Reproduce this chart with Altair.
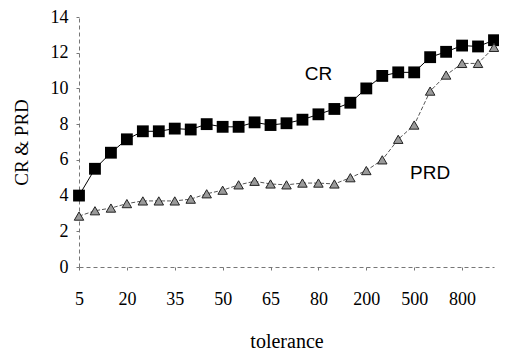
import altair as alt
import pandas as pd

tolerance = [5, 10, 15, 20, 25, 30, 35, 40, 45, 50, 55, 60, 65, 70, 75, 80,
             90, 100, 200, 300, 400, 500, 600, 700, 800, 900, 1000]
cr = [4.0, 5.5, 6.4, 7.15, 7.6, 7.6, 7.75, 7.7, 8.0, 7.85, 7.85, 8.1, 7.95, 8.05,
      8.25, 8.55, 8.85, 9.2, 10.0, 10.7, 10.9, 10.9, 11.75, 12.05, 12.4, 12.35, 12.7]
prd = [2.85, 3.15, 3.3, 3.55, 3.7, 3.7, 3.7, 3.8, 4.1, 4.3, 4.6, 4.8, 4.65, 4.6,
       4.7, 4.7, 4.65, 5.0, 5.4, 6.0, 7.15, 7.95, 9.85, 10.75, 11.4, 11.4, 12.3]
label_ticks = [5, 20, 35, 50, 65, 80, 200, 500, 800]
annotations = ["CR", "PRD"]
annot_x = [80, 600]
annot_y = [10.8, 5.25]

idx = list(range(len(tolerance)))
df = pd.DataFrame({"i": idx, "tolerance": tolerance, "CR": cr, "PRD": prd})
ann = pd.DataFrame({"i": [tolerance.index(v) for v in annot_x], "y": annot_y,
                    "label": annotations})

label_expr = "[" + ",".join("'%d'" % t for t in tolerance) + "][datum.value]"
tick_idx = [tolerance.index(v) for v in label_ticks]

serif = "Liberation Serif"
common = dict(labelFont=serif, labelFontSize=18, labelColor="black",
              labelOverlap=False, labelFlush=False, labelBound=False,
              tickSize=3, tickColor="#777", domainColor="#777", domainDash=[4, 3],
              titleFont=serif, titleFontWeight="normal", titleColor="black",
              grid=False)

x_scale = alt.Scale(domain=[0, len(tolerance) - 1], nice=False, zero=False)
x_axis = alt.Axis(values=tick_idx, labelExpr=label_expr, title="tolerance",
                  labelAngle=0, labelPadding=20, titlePadding=23, titleFontSize=20,
                  **common)
y_scale = alt.Scale(domain=[0, 14], nice=False)
y_axis = alt.Axis(values=list(range(0, 15, 2)), title="CR & PRD",
                  labelPadding=8, titlePadding=19, titleFontSize=19, **common)

X = alt.X("i:Q", scale=x_scale, axis=x_axis)

base = alt.Chart(df)

cr_line = base.mark_line(color="black", strokeWidth=1).encode(
    x=X, y=alt.Y("CR:Q", scale=y_scale, axis=y_axis))
cr_pts = base.mark_point(shape="square", filled=True, color="black", size=140, opacity=1).encode(
    x=X, y=alt.Y("CR:Q", scale=y_scale, axis=y_axis))
prd_line = base.mark_line(color="#555", strokeWidth=1, strokeDash=[4, 2]).encode(
    x=X, y=alt.Y("PRD:Q", scale=y_scale, axis=y_axis))
prd_pts = base.mark_point(shape="triangle-up", filled=True, fill="#9a9a9a", stroke="#222",
                          strokeWidth=1, size=90, opacity=1).encode(
    x=X, y=alt.Y("PRD:Q", scale=y_scale, axis=y_axis))
text = alt.Chart(ann).mark_text(font="Liberation Sans", fontSize=19, color="black").encode(
    x=X, y=alt.Y("y:Q", scale=y_scale, axis=y_axis), text="label:N")

chart = alt.layer(cr_line, prd_line, cr_pts, prd_pts, text).properties(
    width=415, height=250,
    autosize=alt.AutoSizeParams(type="none"),
    padding={"left": 71, "top": 9, "right": 5, "bottom": 88},
    background="white",
).configure_view(stroke=None)

chart.save("out.html", embed_options={"renderer": "svg", "actions": False})
